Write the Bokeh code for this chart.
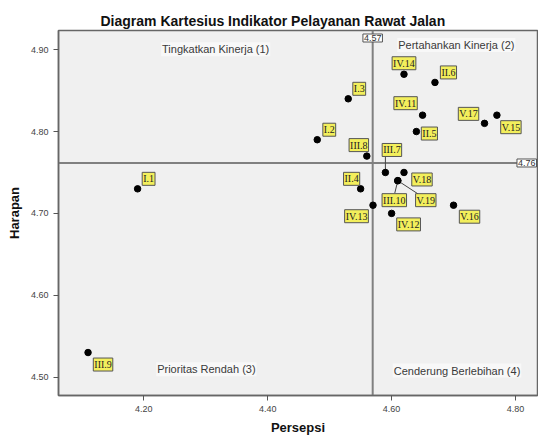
from bokeh.plotting import figure
from bokeh.models import Range1d, FixedTicker, PrintfTickFormatter, Span, ColumnDataSource
from bokeh.core.properties import value
from bokeh.embed import file_html
from bokeh.resources import INLINE

# ---- data -------------------------------------------------------------
labels = ["I.1", "I.2", "I.3", "II.4", "II.5", "II.6", "III.7", "III.8", "III.9", "III.10",
          "IV.11", "IV.12", "IV.13", "IV.14", "V.15", "V.16", "V.17", "V.18", "V.19"]
persepsi = [4.19, 4.48, 4.53, 4.55, 4.64, 4.67, 4.59, 4.56, 4.11, 4.61,
            4.65, 4.60, 4.57, 4.62, 4.77, 4.70, 4.75, 4.62, 4.61]
harapan = [4.73, 4.79, 4.84, 4.73, 4.80, 4.86, 4.75, 4.77, 4.53, 4.74,
           4.82, 4.70, 4.71, 4.87, 4.82, 4.71, 4.81, 4.75, 4.74]
x_ticks = [4.20, 4.40, 4.60, 4.80]
y_ticks = [4.50, 4.60, 4.70, 4.80, 4.90]
quadrant_names = ["Tingkatkan Kinerja (1)", "Pertahankan Kinerja (2)",
                  "Prioritas Rendah (3)", "Cenderung Berlebihan (4)"]
title_text = "Diagram Kartesius Indikator Pelayanan Rawat Jalan"

# ---- layout / style (not data) ---------------------------------------
W, H = 538, 437
BL, BT, BR, BB = 58, 30, 1, 40
FW, FH = W - BL - BR, H - BT - BB
x0 = 4.06231
x1 = x0 + FW / 619.5
y1 = 4.92345
y0 = y1 - FH / 823.0
ux = (x1 - x0) / FW   # data units per pixel
uy = (y1 - y0) / FH

# label box offsets in pixels (x right, y down) from each dot
label_dx = [11, 12, 11, -9, 13, 13.5, 6.5, -8, 15, -3.5, -17, 17, -16.5, 0, 14, 16, -16, 18, 28]
label_dy = [-10, -10, -10, -10, 2, -10, -22.5, -11, 12, 19.5, -12, 11, 11, -11, 12, 11.5, -9.5, 7, 19.5]
# leader lines (label name -> pixel end offset)
leaders = {"III.7": (0, -16.5), "III.10": (-3, 12.5), "V.19": (20.5, 13.5)}

mx = sum(persepsi) / len(persepsi)
my = sum(harapan) / len(harapan)

p = figure(width=W, height=H, output_backend="svg", toolbar_location=None,
           x_range=Range1d(x0, x1), y_range=Range1d(y0, y1),
           min_border_left=BL, min_border_top=BT, min_border_right=BR, min_border_bottom=BB)
p.background_fill_color = "#f0f0f0"
p.border_fill_color = "white"
p.outline_line_color = "#666666"
p.outline_line_width = 1.5
p.grid.visible = False

p.title.text = title_text
p.title.text_font = "Liberation Sans"
p.title.text_font_style = "bold"
p.title.text_font_size = "14px"
p.title.text_color = "#111111"
p.title.align = "left"
p.title.offset = 42
p.title.standoff = 3

for ax in (p.xaxis[0], p.yaxis[0]):
    ax.major_label_text_font = "Liberation Sans"
    ax.major_label_text_font_size = "9px"
    ax.major_label_text_color = "#444444"
    ax.major_tick_out = 5
    ax.major_tick_in = 0
    ax.minor_tick_out = 0
    ax.minor_tick_in = 0
    ax.major_tick_line_color = "#555555"
    ax.axis_line_color = "#666666"
    ax.axis_line_width = 1.5
    ax.axis_label_text_font = "Liberation Sans"
    ax.axis_label_text_font_style = "bold"
    ax.axis_label_text_font_size = "13px"
    ax.axis_label_text_color = "#111111"
    ax.formatter = PrintfTickFormatter(format="%.2f")

p.xaxis.ticker = FixedTicker(ticks=x_ticks)
p.yaxis.ticker = FixedTicker(ticks=y_ticks)
p.xaxis.axis_label = "Persepsi"
p.yaxis.axis_label = "Harapan"
p.xaxis.major_label_standoff = 5
p.xaxis.axis_label_standoff = 5
p.yaxis.major_label_standoff = 5
p.yaxis.axis_label_standoff = 6
p.yaxis.major_label_orientation = "horizontal"

# mean reference lines
p.add_layout(Span(location=mx, dimension="height", line_color="#808080", line_width=2, level="underlay"))
p.add_layout(Span(location=my, dimension="width", line_color="#808080", line_width=2, level="underlay"))

# quadrant labels
qx = [4.316, 4.7045, 4.301, 4.7056]
qy = [4.9004, 4.9056, 4.5097, 4.508]
p.text(x=qx, y=qy, text=quadrant_names, text_font=value("Liberation Sans"),
       text_font_size="11px", text_color="#3a3a3a", text_align="center", text_baseline="middle",
       background_fill_color="white", background_fill_alpha=0.5, padding=1)

# leader lines
lx0, ly0, lx1, ly1 = [], [], [], []
for name, (dx, dy) in leaders.items():
    i = labels.index(name)
    lx0.append(persepsi[i]); ly0.append(harapan[i])
    lx1.append(persepsi[i] + dx * ux); ly1.append(harapan[i] - dy * uy)
p.segment(x0=lx0, y0=ly0, x1=lx1, y1=ly1, line_color="#444444", line_width=1)

# points
src = ColumnDataSource(dict(x=persepsi, y=harapan, t=labels, dx=label_dx, dy=label_dy))
p.scatter("x", "y", source=src, size=6.5, color="black")

# point labels
p.text("x", "y", text="t", source=src, x_offset="dx", y_offset="dy",
       text_font=value("Liberation Serif"), text_font_size="10px", text_color="#222222",
       text_align="center", text_baseline="middle",
       background_fill_color="#f3ef5c", border_line_color="#555555", border_line_width=1, padding=1)

# reference value labels
p.text(x=[mx], y=[y1], text=["%.2f" % mx], y_offset=[7.5], text_font=value("Liberation Sans"),
       text_font_size="9px", text_color="#333333", text_align="center", text_baseline="middle",
       background_fill_color="white", border_line_color="#555555", border_line_width=1, padding=1)
p.text(x=[x1], y=[my], text=["%.2f" % my], x_offset=[-1], text_font=value("Liberation Sans"),
       text_font_size="9px", text_color="#333333", text_align="right", text_baseline="middle",
       background_fill_color="white", border_line_color="#555555", border_line_width=1, padding=1)

open("out.html", "w").write(file_html(p, INLINE))
